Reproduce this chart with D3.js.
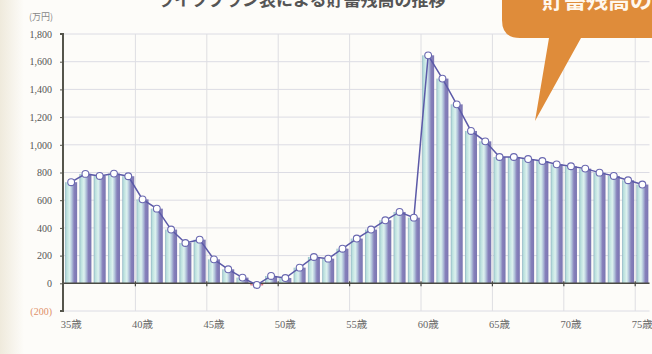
<!DOCTYPE html>
<html><head><meta charset="utf-8">
<script src="https://cdn.jsdelivr.net/npm/d3@7"></script>
<style>
html,body{margin:0;padding:0;background:#fdfcf9;}
svg{display:block;}
</style></head>
<body>
<svg id="c" width="652" height="354"></svg>
<script>
const ages = d3.range(35, 76).map(a => a + "歳");
const savings = [730, 790, 775, 792, 773, 606, 539, 388, 291, 315,
                 173, 101, 41, -12, 53, 38, 113, 190, 178, 250,
                 323, 388, 455, 515, 474, 1646, 1478, 1292, 1100, 1025,
                 912, 912, 897, 883, 859, 845, 828, 799, 775, 744, 713];
const yTicks = [-200, 0, 200, 400, 600, 800, 1000, 1200, 1400, 1600, 1800];
const xLabels = ["35歳", "40歳", "45歳", "50歳", "55歳", "60歳", "65歳", "70歳", "75歳"];
const unitLabel = "(万円)";
const titleText = "ライフプラン表による貯蓄残高の推移";
const bubbleText = "貯蓄残高の";

const svg = d3.select("#c");
const W = 652, H = 354;
const m = {left: 64, right: 2.5, top: 34, bottom: 43};

const defs = svg.append("defs");
const strip = defs.append("linearGradient").attr("id", "strip").attr("x1", 0).attr("x2", 1);
strip.append("stop").attr("offset", "0%").attr("stop-color", "#efeadc");
strip.append("stop").attr("offset", "100%").attr("stop-color", "#fdfcf9");
svg.append("rect").attr("x", 0).attr("y", 0).attr("width", 24).attr("height", H).attr("fill", "url(#strip)");

const bg = defs.append("linearGradient").attr("id", "bar").attr("x1", 0).attr("x2", 1);
[["0%", "#8fb3c4"], ["12%", "#b9dfdc"], ["38%", "#ddf2ef"], ["55%", "#b4c6dc"],
 ["75%", "#8680ba"], ["100%", "#7b76b2"]].forEach(([o, c]) =>
  bg.append("stop").attr("offset", o).attr("stop-color", c));

const x = d3.scaleBand().domain(ages).range([m.left, W - m.right]).paddingInner(0.16).paddingOuter(0.08);
const y = d3.scaleLinear().domain([-200, 1800]).range([H - m.bottom, m.top]);

svg.append("g").selectAll("line").data(yTicks).join("line")
  .attr("x1", m.left).attr("x2", W - m.right)
  .attr("y1", d => y(d)).attr("y2", d => y(d))
  .attr("stroke", "#dcdce4").attr("stroke-width", 1);

const vIdx = d3.range(5, 41, 5);
const bx = i => m.left + (W - m.right - m.left) * i / ages.length;
svg.append("g").selectAll("line").data(vIdx).join("line")
  .attr("x1", d => bx(d)).attr("x2", d => bx(d))
  .attr("y1", y(1800)).attr("y2", y(-200))
  .attr("stroke", "#dedee2").attr("stroke-width", 1);

svg.append("g").selectAll("rect").data(savings).join("rect")
  .attr("x", (d, i) => x(ages[i]))
  .attr("width", x.bandwidth())
  .attr("y", d => y(Math.max(0, d)))
  .attr("height", d => Math.abs(y(d) - y(0)))
  .attr("fill", d => d < 0 ? "#f0b8c0" : "url(#bar)")
  .attr("stroke", d => d < 0 ? "#d05868" : "none")
  .attr("stroke-width", 0.8);

svg.append("line").attr("x1", m.left).attr("x2", W - m.right)
  .attr("y1", y(0)).attr("y2", y(0)).attr("stroke", "#4a4a44").attr("stroke-width", 1.6);
svg.append("g").selectAll("line").data(vIdx).join("line")
  .attr("x1", d => bx(d)).attr("x2", d => bx(d))
  .attr("y1", y(0) - 2).attr("y2", y(0) + 3)
  .attr("stroke", "#4a4a44").attr("stroke-width", 1.2);

const cx = (d, i) => x(ages[i]) + x.bandwidth() / 2;
svg.append("path").datum(savings)
  .attr("d", d3.line().x(cx).y(d => y(d)))
  .attr("fill", "none").attr("stroke", "#5c5aa8").attr("stroke-width", 1.5);
svg.append("g").selectAll("circle").data(savings).join("circle")
  .attr("cx", cx).attr("cy", d => y(d)).attr("r", 3.4)
  .attr("fill", "#ffffff").attr("stroke", "#6a68b0").attr("stroke-width", 1.1);

const ya = svg.append("g").attr("transform", `translate(${m.left - 1},0)`)
  .call(d3.axisLeft(y).tickValues(yTicks).tickSize(3).tickPadding(8)
    .tickFormat(d => d < 0 ? "(" + d3.format(",")(-d) + ")" : d3.format(",")(d)));
ya.select(".domain").attr("stroke", "#55554c").attr("stroke-width", 2)
  .attr("d", `M-3,${y(1800)}H0V${y(-200)}H-3`);
ya.selectAll(".tick line").attr("stroke", "#55554c");
ya.selectAll(".tick text")
  .attr("font-family", "'Liberation Serif','DejaVu Serif',serif")
  .attr("font-size", 10).attr("fill", d => d < 0 ? "#e0906a" : "#555");

svg.append("g").selectAll("text").data(xLabels).join("text")
  .attr("x", d => x(d) + x.bandwidth() / 2)
  .attr("y", 328)
  .attr("text-anchor", "middle")
  .attr("font-family", "'Liberation Serif','Noto Sans CJK JP',serif")
  .attr("font-size", 10.5).attr("fill", "#666")
  .text(d => d);

svg.append("text").attr("x", 41).attr("y", 20).attr("text-anchor", "middle")
  .attr("font-family", "'Noto Sans CJK JP',sans-serif").attr("font-size", 9)
  .attr("fill", "#888").text(unitLabel);

svg.append("text").attr("x", 157).attr("y", 5.5)
  .attr("font-family", "'Noto Sans CJK JP',sans-serif").attr("font-size", 17)
  .attr("font-weight", "bold").attr("fill", "#555").text(titleText);

svg.append("path")
  .attr("d", "M520,-30 H700 V38 H581 L535,121 L549,38 H520 Q502,38 502,20 V-12 Q502,-30 520,-30 Z")
  .attr("fill", "#df8c3a");
svg.append("text").attr("x", 542).attr("y", 8)
  .attr("font-family", "'Noto Sans CJK JP',sans-serif").attr("font-size", 22)
  .attr("font-weight", "bold").attr("fill", "#fff8ee").text(bubbleText);
</script>
</body></html>
